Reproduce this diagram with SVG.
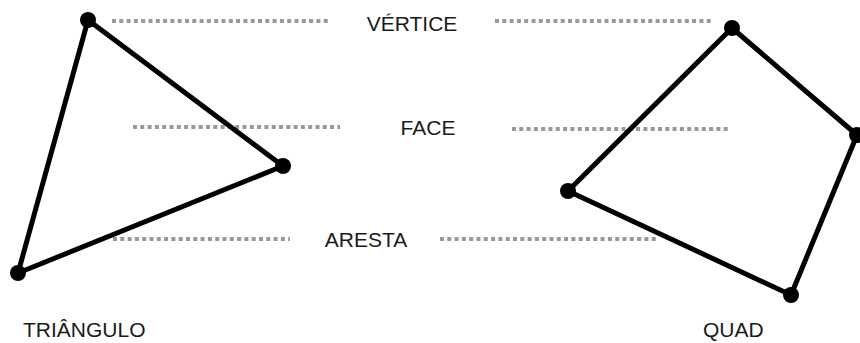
<svg xmlns="http://www.w3.org/2000/svg" width="860" height="343" viewBox="0 0 860 343">
  <style>
    .edge { fill: none; stroke: #000; stroke-width: 5; stroke-linejoin: round; }
    .vtx { fill: #000; }
    .guide { stroke: #999; stroke-width: 4; stroke-dasharray: 4 3.3; fill: none; }
    .lbl { font-family: "Liberation Sans", Arial, sans-serif; font-size: 21px; fill: #1a1a1a; text-anchor: middle; }
    .name { font-family: "Liberation Sans", Arial, sans-serif; font-size: 21px; fill: #1a1a1a; }
  </style>
  <rect width="860" height="343" fill="#fff"/>

  <!-- dotted guides pointing from the labels to the shapes -->
  <g id="connectors">
    <line class="guide" x1="112" y1="21" x2="330" y2="21"/>
    <line class="guide" x1="495" y1="21" x2="713" y2="21"/>
    <line class="guide" x1="133" y1="127" x2="340" y2="127"/>
    <line class="guide" x1="512" y1="129" x2="730" y2="129"/>
    <line class="guide" x1="113" y1="239" x2="290" y2="239"/>
    <line class="guide" x1="440" y1="239" x2="658" y2="239"/>
  </g>

  <!-- triangle -->
  <g id="triangulo">
    <polygon class="edge" points="88,20 283,166 18,273"/>
    <circle class="vtx" cx="88" cy="20" r="8"/>
    <circle class="vtx" cx="283" cy="166" r="8"/>
    <circle class="vtx" cx="18" cy="273" r="8"/>
    <text class="name" x="23" y="337">TRIÂNGULO</text>
  </g>

  <!-- quadrilateral -->
  <g id="quad">
    <polygon class="edge" points="732,28 857,135 791,295 568,191"/>
    <circle class="vtx" cx="732" cy="28" r="8"/>
    <circle class="vtx" cx="857" cy="135" r="8"/>
    <circle class="vtx" cx="791" cy="295" r="8"/>
    <circle class="vtx" cx="568" cy="191" r="8"/>
    <text class="name" x="703" y="337">QUAD</text>
  </g>

  <!-- labels -->
  <g id="vertice"><text class="lbl" x="412" y="31">VÉRTICE</text></g>
  <g id="face"><text class="lbl" x="428" y="135">FACE</text></g>
  <g id="aresta"><text class="lbl" x="366" y="247">ARESTA</text></g>
</svg>
